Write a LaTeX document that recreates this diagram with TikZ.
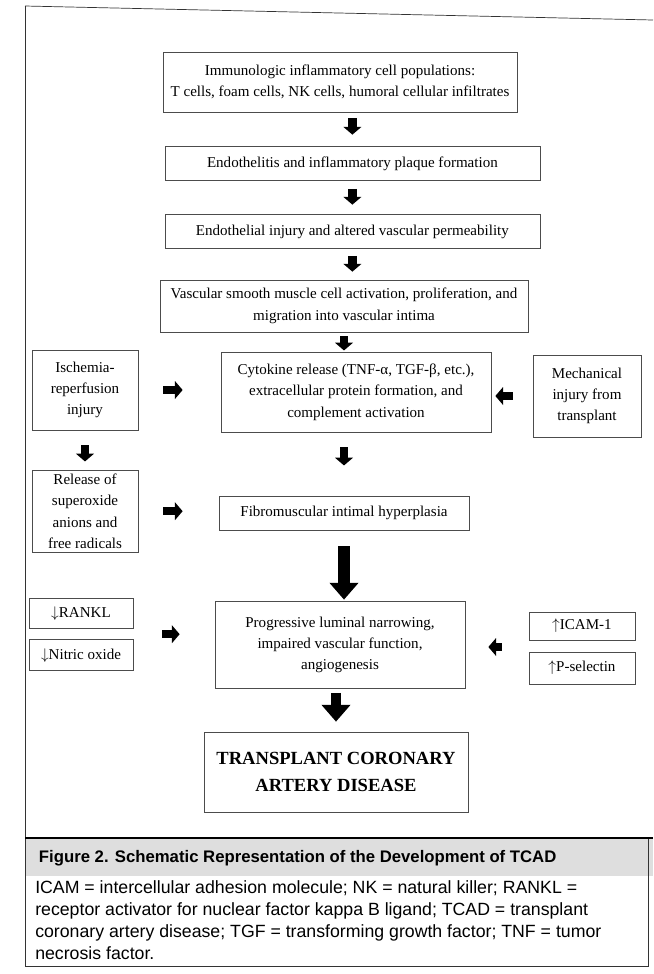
\documentclass[tikz,border=0pt]{standalone}
\usepackage{fontspec}
\setmainfont{Liberation Serif}
\newfontfamily\capfont{Liberation Sans}
\usepackage{xcolor}
\usepackage{tikz}
\usetikzlibrary{arrows.meta, positioning, calc}

\begin{document}
\begin{tikzpicture}[
    box/.style={draw=black!70, line width=0.5pt, align=center, inner sep=0pt, font=\fontsize{10.7}{15.2}\selectfont},
    fat/.style={line width=6pt, -{Triangle[width=12.5pt, length=5.5pt]}},
    bigfat/.style={line width=8pt, -{Triangle[width=20pt, length=12pt]}},
]
    \useasboundingbox (0, 0) rectangle (16.325, -24.35);

    % Hauptkette
    \node[box, minimum width=8.85cm, minimum height=1.5cm] (imm) at (8.5, -2.05)
        {Immunologic inflammatory cell populations:\\T cells, foam cells, NK cells, humoral cellular infiltrates};
    \node[box, minimum width=9.375cm, minimum height=0.85cm] (endo) at (8.81, -4.09)
        {Endothelitis and inflammatory plaque formation};
    \node[box, minimum width=9.375cm, minimum height=0.85cm] (inj) at (8.81, -5.79)
        {Endothelial injury and altered vascular permeability};
    \node[box, minimum width=9.2cm, minimum height=1.3cm] (vsm) at (8.6, -7.65)
        {Vascular smooth muscle cell activation, proliferation, and\\migration into vascular intima};
    \node[box, minimum width=6.75cm, minimum height=2cm] (cyt) at (8.9, -9.8)
        {Cytokine release (TNF-α, TGF-β, etc.),\\extracellular protein formation, and\\complement activation};
    \node[box, minimum width=6.25cm, minimum height=0.85cm] (fib) at (8.6, -12.83)
        {Fibromuscular intimal hyperplasia};
    \node[box, minimum width=6.25cm, minimum height=2.18cm] (prog) at (8.5, -16.12)
        {Progressive luminal narrowing,\\impaired vascular function,\\angiogenesis};
    \node[box, minimum width=6.6cm, minimum height=2cm, font=\fontsize{13.2}{19.5}\selectfont\bfseries] (tcad) at (8.4, -19.3)
        {TRANSPLANT CORONARY\\ARTERY DISEASE};

    % Seitenfaktoren
    \node[box, minimum width=2.65cm, minimum height=2cm] (isch) at (2.125, -9.75)
        {Ischemia-\\reperfusion\\injury};
    \node[box, minimum width=2.65cm, minimum height=2.05cm] (rel) at (2.125, -12.78)
        {Release of\\superoxide\\anions and\\free radicals};
    \node[box, minimum width=2.7cm, minimum height=2.05cm] (mech) at (14.675, -9.9)
        {Mechanical\\injury from\\transplant};
    \node[box, minimum width=2.6cm, minimum height=0.75cm] (rankl) at (2.025, -15.33) {$\downarrow$RANKL};
    \node[box, minimum width=2.6cm, minimum height=0.78cm] (nitric) at (2.025, -16.38) {$\downarrow$Nitric oxide};
    \node[box, minimum width=2.65cm, minimum height=0.7cm] (icam) at (14.55, -15.65) {$\uparrow$ICAM-1};
    \node[box, minimum width=2.65cm, minimum height=0.8cm] (psel) at (14.55, -16.7) {$\uparrow$P-selectin};
    \coordinate (lft) at ($(rankl.east)!0.5!(nitric.east)$);
    \coordinate (rgt) at ($(icam.west)!0.5!(psel.west)$);

    % Pfeile
    \draw[fat, shorten <=0.15cm, shorten >=0.29cm] (imm.south -| endo) -- (endo.north);
    \draw[fat, shorten <=0.2cm, shorten >=0.24cm] (endo.south) -- (inj.north);
    \draw[fat, shorten <=0.175cm, shorten >=0.2cm] (inj.south) -- (inj.south |- vsm.north);
    \draw[fat, shorten <=0.1cm, shorten >=0.03cm] (vsm.south) -- (vsm.south |- cyt.north);
    \draw[fat, shorten <=0.625cm, shorten >=0.95cm] (isch.east) -- (isch.east -| cyt.west);
    \draw[fat, shorten <=0.5cm, shorten >=0.1cm] (mech.west) -- (mech.west -| cyt.east);
    \draw[fat, shorten <=0.375cm, shorten >=0.21cm] (isch.south) -- (rel.north);
    \draw[fat, shorten <=0.375cm, shorten >=0.76cm] (fib.north |- cyt.south) -- (fib.north);
    \draw[fat, shorten <=0.625cm, shorten >=0.9cm] (rel.east) -- (rel.east -| fib.west);
    \draw[bigfat, shorten <=0.39cm, shorten >=0.03cm] (fib.south) -- (fib.south |- prog.north);
    \draw[fat, shorten <=0.725cm, shorten >=0.875cm] (lft) -- (lft -| prog.west);
    \draw[fat, shorten <=0.675cm, shorten >=0.575cm] (rgt) -- (rgt -| prog.east);
    \draw[bigfat, line width=7pt, shorten <=0.1cm, shorten >=0.25cm] (tcad.north |- prog.south) -- (tcad.north);

    % Rahmen und Legende
    \fill[black!13] (0.625, -20.95) rectangle (16.325, -21.9);
    \draw[black!80, line width=0.5pt] (0.625, -0.15) -- (16.325, -0.5);
    \draw[black!80, line width=0.5pt] (0.625, -0.15) -- (0.625, -24.15) -- (16.2, -24.15) -- (16.2, -20.95);
    \draw[black, line width=1.2pt] (0.625, -20.95) -- (16.325, -20.95);
    \node[anchor=west, font=\capfont\fontsize{11.9}{14}\selectfont\bfseries] (title) at (0.85, -21.45)
        {Figure 2. Schematic Representation of the Development of TCAD};
    \node[anchor=north west, align=left, inner sep=0pt, font=\capfont\fontsize{12.6}{15.8}\selectfont] (legend) at (0.875, -22.0)
        {ICAM = intercellular adhesion molecule; NK = natural killer; RANKL =\\
         receptor activator for nuclear factor kappa B ligand; TCAD = transplant\\
         coronary artery disease; TGF = transforming growth factor; TNF = tumor\\
         necrosis factor.};
\end{tikzpicture}
\end{document}
